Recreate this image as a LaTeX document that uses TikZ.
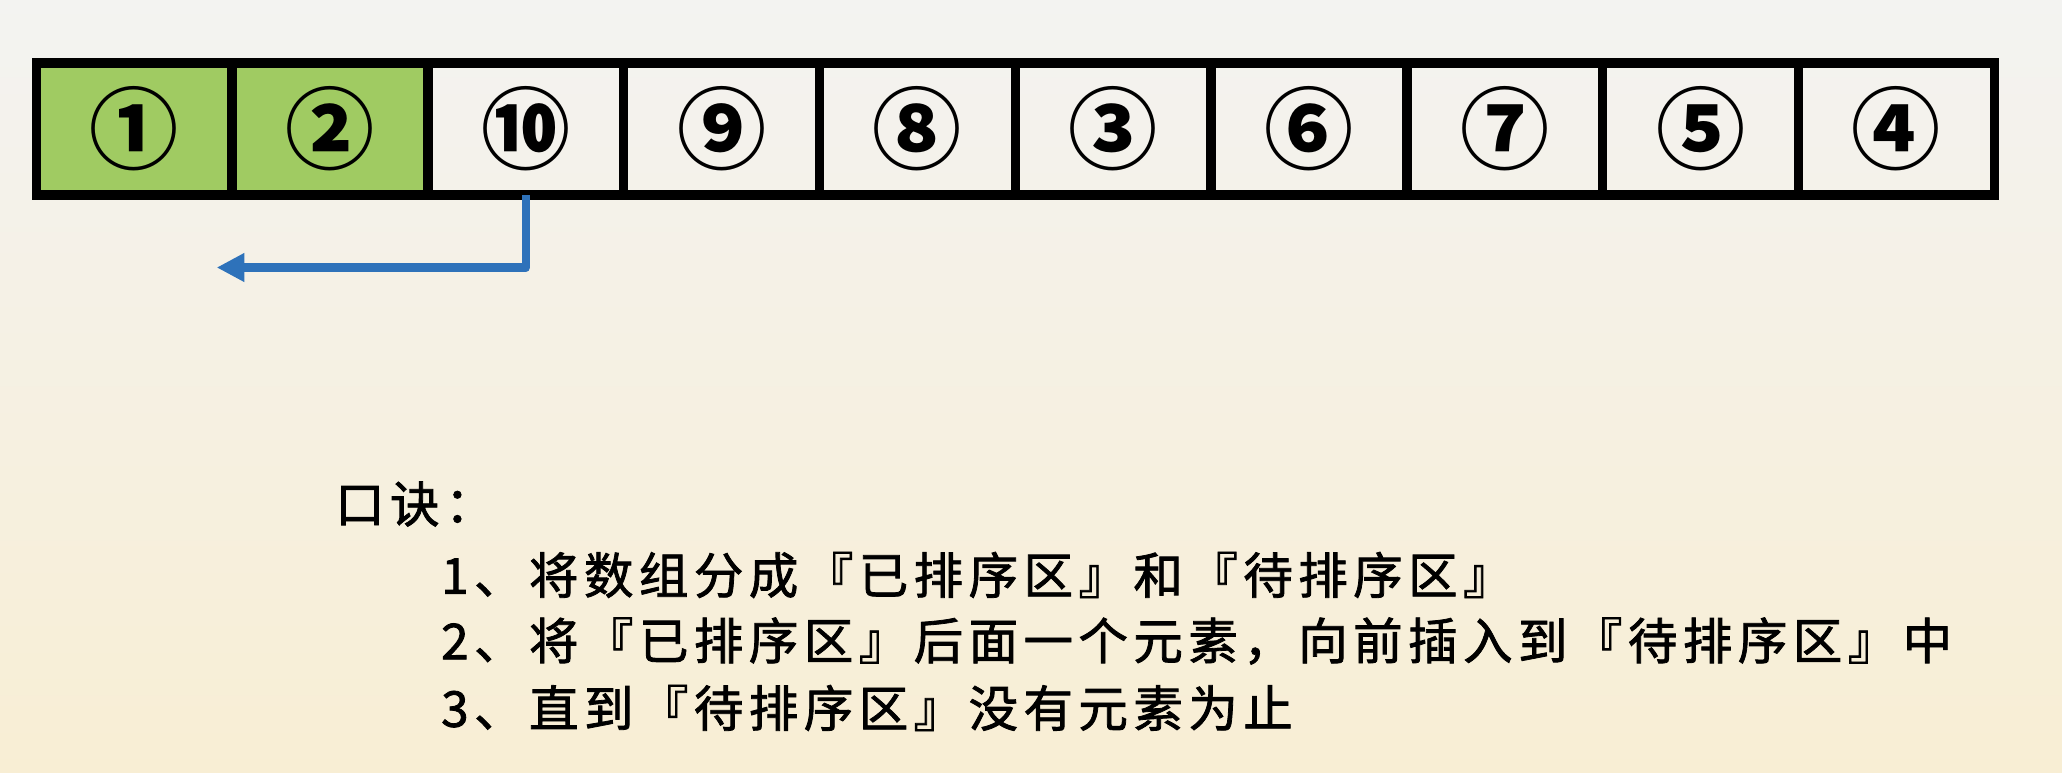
\documentclass[tikz,border=0pt]{standalone}
\usepackage{fontspec}
\newfontfamily\cjk{Noto Sans CJK SC}
\newfontfamily\cjkls[LetterSpace=11,FakeBold=1.6]{Noto Sans CJK SC}
\usetikzlibrary{arrows.meta}
\definecolor{bgtop}{RGB}{243,243,241}
\definecolor{bgbot}{RGB}{248,238,212}
\definecolor{sortedgreen}{RGB}{160,203,98}
\definecolor{arrowblue}{RGB}{46,114,186}
\tikzset{
  cell/.style={draw=black, line width=9.5pt, minimum width=195.8pt, minimum height=132pt,
    inner sep=0pt, outer sep=0pt, font=\cjk\bfseries\fontsize{89}{89}\selectfont},
  sortedcell/.style={cell, fill=sortedgreen},
  txt/.style={anchor=west, inner sep=0pt, font=\cjkls\fontsize{49.5}{60}\selectfont},
  movearrow/.style={draw=arrowblue, line width=8.5pt, line join=round,
    -{Triangle[length=27.6pt,width=27pt]}}
}
\begin{document}
\begin{tikzpicture}[x=1pt,y=-1pt]
\shade[top color=bgtop,bottom color=bgbot] (0,0) rectangle (2062,772);
\useasboundingbox (0,0) rectangle (2062,772);
\node[sortedcell] (c1) at (134.2,129) {①};
\node[sortedcell] (c2) at (330.0,129) {②};
\node[cell] (c3) at (525.8,129) {⑩};
\node[cell] (c4) at (721.6,129) {⑨};
\node[cell] (c5) at (917.4,129) {⑧};
\node[cell] (c6) at (1113.2,129) {③};
\node[cell] (c7) at (1309.0,129) {⑥};
\node[cell] (c8) at (1504.8,129) {⑦};
\node[cell] (c9) at (1700.6,129) {⑤};
\node[cell] (c10) at (1896.4,129) {④};
\coordinate (tip) at (216.7,267.5);
\draw[movearrow] (c3.south) |- (tip);
\node[txt] (l0) at (335,504) {口诀：};
\node[txt] (l1) at (441,575) {1、将数组分成『已排序区』和『待排序区』};
\node[txt] (l2) at (441,641) {2、将『已排序区』后面一个元素，向前插入到『待排序区』中};
\node[txt] (l3) at (441,708) {3、直到『待排序区』没有元素为止};
\end{tikzpicture}
\end{document}
